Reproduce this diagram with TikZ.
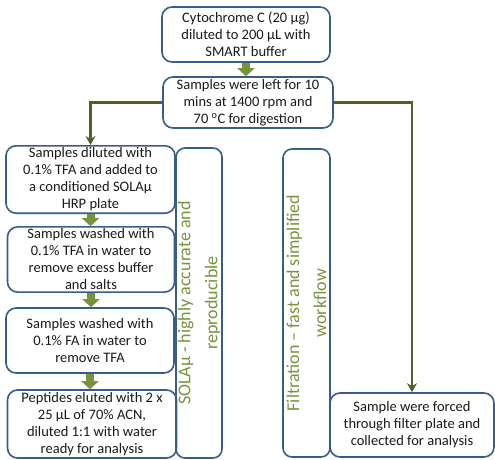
\documentclass[tikz,border=0pt]{standalone}
\usepackage{fontspec}
\setmainfont{Carlito}
\usepackage{xcolor}
\usepackage{tikz}
\usetikzlibrary{calc,arrows.meta}
\definecolor{boxline}{HTML}{385D8A}
\definecolor{leaf}{HTML}{77933C}
\definecolor{olive}{HTML}{4F6228}
\definecolor{ink}{HTML}{1A1A1A}
\tikzset{
  stepbox/.style={draw=boxline, line width=1.6pt, rounded corners=10pt, fill=white,
    text=ink, align=center, inner sep=2pt, font=\fontsize{14.5}{17}\selectfont},
  sidebox/.style={draw=boxline, line width=1.6pt, rounded corners=9pt,
    text=leaf, align=center, inner sep=0pt, rotate=90,
    font=\fontsize{18}{27}\selectfont},
  flow/.style={draw=olive, line width=2.2pt, -{Stealth[length=9pt,width=10pt]}},
  block/.style={draw=leaf, line width=8pt, -{Triangle[length=8pt,width=17pt]}},
}
\begin{document}
\begin{tikzpicture}[x=1pt, y=-1pt]
  \useasboundingbox (0,0) rectangle (495,459);
  % top of the flow
  \node[stepbox, minimum width=168pt, minimum height=55pt] (cyto) at (246,34.5)
    {Cytochrome C (20 µg)\\diluted to 200 µL with\\SMART buffer};
  \node[stepbox, minimum width=170pt, minimum height=51pt] (digest) at (248,102.5)
    {Samples were left for 10\\mins at 1400 rpm and\\70 \textsuperscript{o}C for digestion};
  % SOLAmu branch
  \node[stepbox, minimum width=169pt, minimum height=65pt] (dilute) at (90.5,179.5)
    {Samples diluted with\\0.1\% TFA and added to\\a conditioned SOLAµ\\HRP plate};
  \node[stepbox, minimum width=167pt, minimum height=65pt] (washA) at (91,259.5)
    {Samples washed with\\0.1\% TFA in water to\\remove excess buffer\\and salts};
  \node[stepbox, minimum width=168pt, minimum height=65pt] (washB) at (90,340.5)
    {Samples washed with\\0.1\% FA in water to\\remove TFA};
  \node[stepbox, minimum width=169pt, minimum height=68pt] (elute) at (92,424)
    {Peptides eluted with 2 x\\25 µL of 70\% ACN,\\diluted 1:1 with water\\ready for analysis};
  \node[sidebox, minimum width=310pt, minimum height=46pt] (solalab) at (199,303)
    {SOLAµ - highly accurate and\\reproducible};
  % filtration branch
  \node[sidebox, minimum width=308pt, minimum height=47pt] (filtlab) at (306.5,303)
    {Filtration – fast and simplified\\workflow};
  \node[stepbox, minimum width=164pt, minimum height=64pt] (forced) at (412,425)
    {Sample were forced\\through filter plate and\\collected for analysis};

  \draw[block] (cyto.south) -- (cyto.south |- digest.north);
  \draw[block] (dilute.south) -- (dilute.south |- washA.north);
  \draw[block] (washA.south) -- (washA.south |- washB.north);
  \draw[block] (washB.south) -- (washB.south |- elute.north);
  \draw[flow] (digest.west) -| (dilute.north);
  \draw[flow] (digest.east) -| (forced.north);
\end{tikzpicture}
\end{document}
